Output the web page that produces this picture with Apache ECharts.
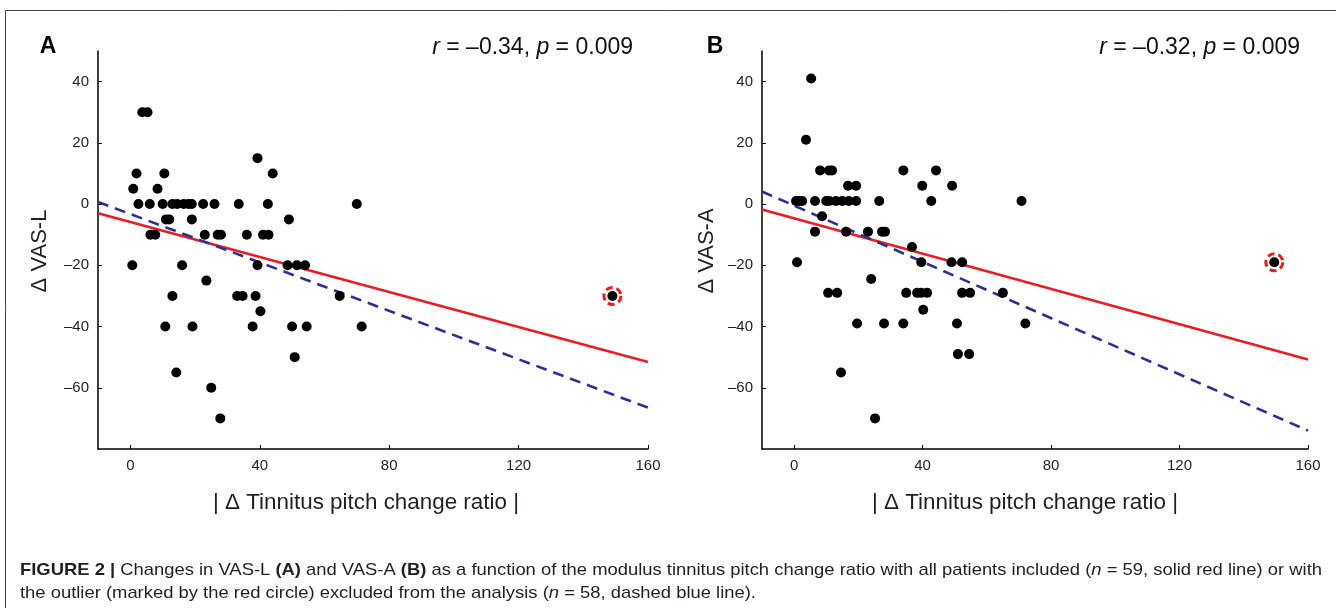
<!DOCTYPE html>
<html><head><meta charset="utf-8">
<script src="https://cdn.jsdelivr.net/npm/echarts@6/dist/echarts.min.js"></script>
<style>html,body{margin:0;padding:0;background:#fff}#c{width:1336px;height:608px}</style>
</head><body><div id="c"></div>
<script>
// ---------- data ----------
const xTicks = [0, 40, 80, 120, 160];
const yTicks = [-60, -40, -20, 0, 20, 40];

const ptsA = [
  [3.7,30],[5.3,30],
  [39.3,15],
  [1.9,10],[10.5,10],[44,10],
  [0.9,5],[8.4,5],
  [2.5,0],[6,0],[10,0],[13,0],[14.5,0],[16.5,0],[18,0],[19,0],[22.5,0],[26,0],[33.5,0],[42.5,0],[70,0],
  [11,-5],[12,-5],[19,-5],[49,-5],
  [6.2,-10],[7.7,-10],[23,-10],[27,-10],[28,-10],[36,-10],[41,-10],[42.7,-10],
  [0.6,-20],[16,-20],[39.3,-20],[48.6,-20],[51.5,-20],[54,-20],
  [23.5,-25],
  [13,-30],[33,-30],[34.7,-30],[38.7,-30],[64.7,-30],
  [40.2,-35],
  [10.8,-40],[19.2,-40],[37.8,-40],[50,-40],[54.5,-40],[71.5,-40],
  [50.8,-50],[14.2,-55],[25,-60],[27.8,-70]
];
const outlierA = [[149,-30]];
const fitAllA  = [[-10,-3],[160,-51.6]];
const fitExclA = [[-10,0.7],[160,-66.5]];

const ptsB = [
  [5.3,41],[3.7,21],
  [8.1,11],[10.9,11],[11.8,11],[34,11],[44.2,11],
  [16.8,6],[19.3,6],[39.9,6],[49.2,6],
  [0.6,1],[1.6,1],[2.5,1],[6.5,1],[10,1],[10.9,1],[13,1],[15,1],[17,1],[19.3,1],[26.5,1],[42.7,1],[70.8,1],
  [8.7,-4],
  [6.5,-9],[16.2,-9],[23,-9],[27.4,-9],[28.3,-9],
  [36.7,-14],
  [0.9,-19],[39.6,-19],[49,-19],[52.3,-19],
  [24,-24.5],
  [10.6,-29],[13.4,-29],[34.9,-29],[38.3,-29],[39.6,-29],[41.4,-29],[52.3,-29],[54.8,-29],[65,-29],
  [40.2,-34.5],
  [19.6,-39],[28,-39],[34,-39],[50.7,-39],[72,-39],
  [51,-49],[54.5,-49],
  [14.6,-55],[25.2,-70]
];
const outlierB = [[149.5,-19]];
const fitAllB  = [[-10,-1.8],[160,-50.8]];
const fitExclB = [[-10,4.1],[160,-74]];

// ---------- styling ----------
const SANS = '"Liberation Sans", Arial, Helvetica, sans-serif';
const RED = '#ed1c24', BLUE = '#2e3192', INK = '#231f20';
const minus = v => String(v).replace('-', '\u2013');

const cv = document.createElement('canvas').getContext('2d');
function textW(parts) {
  let w = 0;
  for (const [f, t] of parts) { cv.font = f; w += cv.measureText(t).width; }
  return w;
}
function fit(parts, target) {
  const s = target / textW(parts);
  return Math.max(0.8, Math.min(1.2, s));
}

function xAx(g) {
  return { gridIndex: g, type: 'value', min: -10, max: 160,
    axisLine: { show: true, onZero: false, lineStyle: { color: '#000', width: 1.5 } },
    axisTick: { show: true, inside: true, length: 4, customValues: xTicks, lineStyle: { color: '#000', width: 1 } },
    axisLabel: { customValues: xTicks, fontSize: 15, color: INK, margin: 9, fontFamily: SANS, formatter: minus },
    splitLine: { show: false } };
}
function yAx(g) {
  return { gridIndex: g, type: 'value', min: -80, max: 50,
    axisLine: { show: true, onZero: false, lineStyle: { color: '#000', width: 1.5 } },
    axisTick: { show: true, inside: true, length: 4, customValues: yTicks, lineStyle: { color: '#000', width: 1 } },
    axisLabel: { customValues: yTicks, fontSize: 15, color: INK, margin: 9, fontFamily: SANS, formatter: minus },
    splitLine: { show: false } };
}
function panelSeries(i, pts, out, fitAll, fitExcl) {
  return [
    { type: 'line', xAxisIndex: i, yAxisIndex: i, data: fitAll, showSymbol: false, silent: true, z: 2,
      lineStyle: { color: RED, width: 2.6 } },
    { type: 'line', xAxisIndex: i, yAxisIndex: i, data: fitExcl, showSymbol: false, silent: true, z: 2,
      lineStyle: { color: BLUE, width: 2.6, type: [11, 7] } },
    { type: 'scatter', xAxisIndex: i, yAxisIndex: i, data: pts, symbolSize: 10, z: 5,
      itemStyle: { color: '#000', opacity: 1 } },
    { type: 'scatter', xAxisIndex: i, yAxisIndex: i, data: out, symbolSize: 10, z: 5,
      itemStyle: { color: '#000', opacity: 1 } },
    { type: 'scatter', xAxisIndex: i, yAxisIndex: i, data: out, symbolSize: 17, z: 4,
      itemStyle: { color: 'rgba(0,0,0,0)', borderColor: RED, borderWidth: 3, borderType: [7, 4], opacity: 1 } }
  ];
}

// text sizing
const XT = '| \u0394 Tinnitus pitch change ratio |';
const xtFont = '22px ' + SANS;
const xtScale = fit([[xtFont, XT]], 306);

function statText(x, r, p) {
  return { type: 'text', x: x, y: 48, style: {
    text: '{i|r} = ' + r + ', {i|p} = ' + p,
    rich: { i: { fontStyle: 'italic', fontFamily: SANS, fontSize: 23, fill: '#111' } },
    fontFamily: SANS, fontSize: 23, fill: '#111', align: 'right', verticalAlign: 'middle' } };
}
function panelLetter(x, t) {
  return { type: 'text', x: x, y: 47, style: { text: t, fontFamily: SANS, fontWeight: 'bold', fontSize: 23,
    fill: '#000', align: 'center', verticalAlign: 'middle' } };
}

const capSize = 17;
const capReg = capSize + 'px ' + SANS, capBold = 'bold ' + capSize + 'px ' + SANS, capIt = 'italic ' + capSize + 'px ' + SANS;
const capScale = fit([[capBold, 'FIGURE 2 |'], [capReg, ' Changes in VAS-L '], [capBold, '(A)'], [capReg, ' and VAS-A '],
  [capBold, '(B)'], [capReg, ' as a function of the modulus tinnitus pitch change ratio with all patients included ('],
  [capIt, 'n'], [capReg, ' = 59, solid red line) or with']], 1302);
const capRich = {
  b: { fontFamily: SANS, fontWeight: 'bold', fontSize: capSize, fill: INK },
  i: { fontFamily: SANS, fontStyle: 'italic', fontSize: capSize, fill: INK }
};

const chart = echarts.init(document.getElementById('c'), null, { renderer: 'canvas' });
chart.setOption({
  animation: false,
  backgroundColor: '#fff',
  grid: [
    { left: 98, top: 51, width: 550, height: 398, outerBoundsMode: 'none' },
    { left: 762, top: 51, width: 546, height: 398, outerBoundsMode: 'none' }
  ],
  xAxis: [xAx(0), xAx(1)],
  yAxis: [yAx(0), yAx(1)],
  series: [
    ...panelSeries(0, ptsA, outlierA, fitAllA, fitExclA),
    ...panelSeries(1, ptsB, outlierB, fitAllB, fitExclB)
  ],
  graphic: [
    { type: 'rect', silent: true, shape: { x: 5.5, y: 10.5, width: 1400, height: 700 },
      style: { fill: null, stroke: '#444', lineWidth: 1 } },
    panelLetter(48, 'A'),
    panelLetter(715, 'B'),
    statText(633, '\u20130.34', '0.009'),
    statText(1300, '\u20130.32', '0.009'),
    { type: 'text', x: 40, y: 251, rotation: Math.PI / 2,
      style: { text: '\u0394 VAS-L', fontFamily: SANS, fontSize: 22, fill: INK, align: 'center', verticalAlign: 'middle' } },
    { type: 'text', x: 707, y: 251, rotation: Math.PI / 2,
      style: { text: '\u0394 VAS-A', fontFamily: SANS, fontSize: 22, fill: INK, align: 'center', verticalAlign: 'middle' } },
    { type: 'text', x: 366, y: 503, scaleX: xtScale,
      style: { text: XT, fontFamily: SANS, fontSize: 22, fill: INK, align: 'center', verticalAlign: 'middle' } },
    { type: 'text', x: 1025, y: 503, scaleX: xtScale,
      style: { text: XT, fontFamily: SANS, fontSize: 22, fill: INK, align: 'center', verticalAlign: 'middle' } },
    { type: 'text', x: 20, y: 570, scaleX: capScale, style: {
      text: '{b|FIGURE 2 |} Changes in VAS-L {b|(A)} and VAS-A {b|(B)} as a function of the modulus tinnitus pitch change ratio with all patients included ({i|n} = 59, solid red line) or with',
      rich: capRich, fontFamily: SANS, fontSize: capSize, fill: INK, align: 'left', verticalAlign: 'middle' } },
    { type: 'text', x: 20, y: 593, scaleX: capScale, style: {
      text: 'the outlier (marked by the red circle) excluded from the analysis ({i|n} = 58, dashed blue line).',
      rich: capRich, fontFamily: SANS, fontSize: capSize, fill: INK, align: 'left', verticalAlign: 'middle' } }
  ]
});
</script></body></html>
